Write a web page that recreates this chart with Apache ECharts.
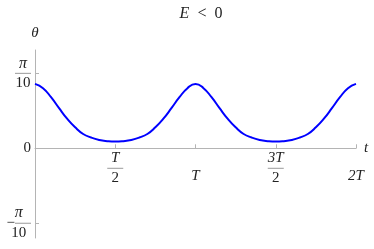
<!DOCTYPE html>
<html><head><meta charset="utf-8">
<script src="https://cdn.jsdelivr.net/npm/echarts@6/dist/echarts.min.js"></script>
<style>html,body{margin:0;padding:0;background:#fff}#c{width:374px;height:249px}</style>
</head><body><div id="c"></div>
<script>
// t in units of the period T
var tValues = [0,0.05,0.1,0.15,0.2,0.25,0.3,0.35,0.4,0.45,0.5,0.55,0.6,0.65,0.7,0.75,0.8,0.85,0.9,0.95,1,
  1.05,1.1,1.15,1.2,1.25,1.3,1.35,1.4,1.45,1.5,1.55,1.6,1.65,1.7,1.75,1.8,1.85,1.9,1.95,2];
// theta in radians
var thetaValues = [0.270,0.252,0.214,0.168,0.124,0.088,0.060,0.045,0.035,0.030,0.028,0.030,0.035,0.045,0.060,0.088,0.124,0.168,0.214,0.252,0.270,
  0.252,0.214,0.168,0.124,0.088,0.060,0.045,0.035,0.030,0.028,0.030,0.035,0.045,0.060,0.088,0.124,0.168,0.214,0.252,0.270];
var xTicks = [0.5, 1, 1.5, 2];
var xTickLabels = {0.5: ['T','2'], 1: ['T'], 1.5: ['3T','2'], 2: ['2T']};
var yTicks = [-Math.PI/10, 0, Math.PI/10];

var serif = '"Liberation Serif", "DejaVu Serif", serif';
var data = tValues.map(function(t,i){return [t, thetaValues[i]];});
var yMin = -0.376, yMax = 0.412, gridTop = 50, gridBottom = 11, H = 249;
var plotH = H - gridTop - gridBottom;
var zeroOffset = -(plotH * (0 - yMin) / (yMax - yMin));
var chart = echarts.init(document.getElementById('c'));
var rich = {
  n: {fontFamily: serif, fontSize: 16, fontStyle: 'italic', width: 16, align: 'center', lineHeight: 16, color: '#222'},
  ni: {fontFamily: serif, fontSize: 15, fontStyle: 'italic', width: 16, align: 'center', lineHeight: 16, color: '#222'},
  bar: {width: 16, height: 1, lineHeight: 4, backgroundColor: '#999'},
  d: {fontFamily: serif, fontSize: 15, width: 16, align: 'center', lineHeight: 16, color: '#222'},
  m: {fontFamily: serif, fontSize: 15, color: '#222', lineHeight: 4},
  s: {fontFamily: serif, fontSize: 15, fontStyle: 'italic', lineHeight: 52, color: '#222'},
  z: {fontFamily: serif, fontSize: 15, color: '#222'}
};
chart.setOption({
  animation: false,
  title: {text: '{i|E}  <  0', left: 196, textAlign: 'center', top: 1,
    textStyle: {fontFamily: serif, fontSize: 16, fontWeight: 'normal', color: '#222',
      rich: {i: {fontFamily: serif, fontSize: 16, fontStyle: 'italic', color: '#222'}}}},
  grid: {left: 35, right: 18, top: gridTop, bottom: gridBottom, containLabel: false, outerBoundsMode: 'none'},
  xAxis: {type: 'value', min: 0, max: 2, interval: 0.5, offset: zeroOffset,
    name: 't', nameLocation: 'end', nameGap: 8,
    nameTextStyle: {fontFamily: serif, fontSize: 15, fontStyle: 'italic', color: '#222', verticalAlign: 'middle'},
    axisLine: {onZero: false, lineStyle: {color: '#b4b4b4', width: 1}},
    axisTick: {inside: true, length: 4, lineStyle: {color: '#b4b4b4'}},
    splitLine: {show: false},
    axisLabel: {showMinLabel: false, margin: 2, verticalAlign: 'top', hideOverlap: false,
      formatter: function(v){
        var l = xTickLabels[v]; if (!l) return '';
        if (l.length === 2) return '{ni|' + l[0] + '}\n{bar| }\n{d|' + l[1] + '}';
        return '{s|' + l[0] + '}';
      }, rich: rich}
  },
  yAxis: {type: 'value', min: yMin, max: yMax,
    name: 'θ', nameLocation: 'end', nameGap: 9,
    nameTextStyle: {fontFamily: serif, fontSize: 15, fontStyle: 'italic', color: '#222', align: 'center'},
    axisLine: {show: true, onZero: false, lineStyle: {color: '#b4b4b4', width: 1}},
    axisTick: {show: true, inside: true, length: 4, customValues: yTicks, lineStyle: {color: '#b4b4b4'}},
    splitLine: {show: false},
    axisLabel: {customValues: yTicks, margin: 4, align: 'right', verticalAlign: 'middle', hideOverlap: false,
      formatter: function(v){
        if (Math.abs(v) < 1e-9) return '{z|0}';
        if (v > 0) return '{n|π}\n{bar| }\n{d|10}';
        return '{n|π}\n{m|−}{bar| }\n{d|10}';
      }, rich: rich}
  },
  series: [{type: 'line', data: data, smooth: true, showSymbol: false,
    lineStyle: {color: '#0000ff', width: 2}}]
});
</script></body></html>
